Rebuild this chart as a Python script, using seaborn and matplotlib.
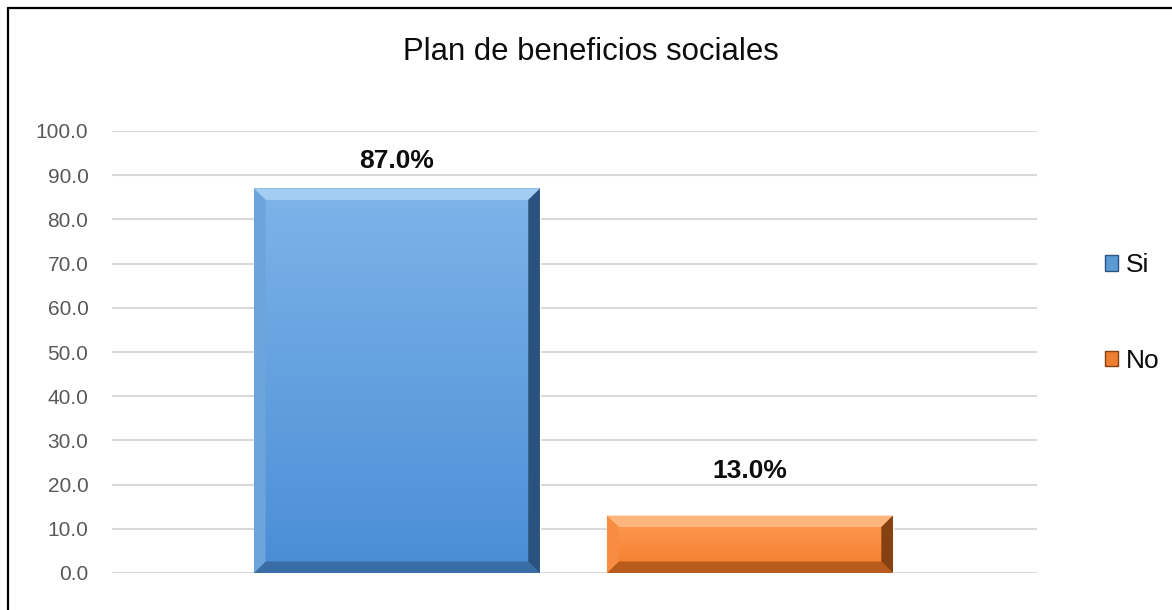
import numpy as np
import matplotlib
matplotlib.use("Agg")
import matplotlib.pyplot as plt
import seaborn as sns
from matplotlib.patches import Patch, Polygon
from matplotlib.lines import Line2D
from matplotlib.colors import LinearSegmentedColormap
from matplotlib.ticker import MultipleLocator, FuncFormatter

# ---- data ----
categories = ["Si", "No"]
values = [87.0, 13.0]
value_labels = ["87.0%", "13.0%"]
title = "Plan de beneficios sociales"

# ---- style ----
sns.set_theme(style="white")
plt.rcParams["font.family"] = ["Liberation Sans", "DejaVu Sans"]

base_colors = ["#5B9BD5", "#ED7D31"]
grad_top = ["#7EB4E9", "#FF9C55"]
grad_bot = ["#4A8DD6", "#F47C2A"]
bev_top = ["#A3CDF2", "#FFB57E"]
bev_left = ["#6CA4DD", "#F88C43"]
bev_right = ["#2A527F", "#854112"]
bev_bot = ["#3A6CA5", "#B95B1A"]
label_offsets_pt = [15, 27]

fig = plt.figure(figsize=(11.72, 6.10), dpi=100)
ax = fig.add_axes([112 / 1172, 1 - 573 / 610, (1037 - 112) / 1172, (573 - 131) / 610])

sns.barplot(x=categories, y=values, hue=categories, palette=base_colors,
            width=0.81, dodge=False, legend=False, ax=ax, saturation=1)

ax.set_ylim(0, 100)
ax.set_xlim(-0.807, 1.813)
ax.yaxis.set_major_locator(MultipleLocator(10))
ax.yaxis.set_major_formatter(FuncFormatter(lambda v, p: f"{v:.1f}"))
ax.tick_params(axis="y", length=0, pad=17, labelsize=15, labelcolor="#595959")
ax.tick_params(axis="x", length=0, labelbottom=False)
ax.set_xlabel("")
ax.set_ylabel("")
for s in ax.spines.values():
    s.set_visible(False)
ax.yaxis.grid(True, color="#D9D9D9", linewidth=1.5)
ax.set_axisbelow(True)

# bevel/gradient decoration derived from bar patches
dx, dy = 0.033, 2.6
bars = list(ax.patches)
for i, p in enumerate(bars):
    x0, y0 = p.get_x(), p.get_y()
    w, h = p.get_width(), p.get_height()
    x1, y1 = x0 + w, y0 + h
    cmap = LinearSegmentedColormap.from_list("g", [grad_bot[i], grad_top[i]])
    grad = np.linspace(0, 1, 256).reshape(-1, 1)
    im = ax.imshow(grad, cmap=cmap, origin="lower", extent=[x0, x1, y0, y1],
                   aspect="auto", zorder=p.get_zorder() + 0.1)
    im.set_clip_path(p)
    z = p.get_zorder() + 0.2
    ax.add_patch(Polygon([(x0, y1), (x1, y1), (x1 - dx, y1 - dy), (x0 + dx, y1 - dy)],
                         closed=True, fc=bev_top[i], ec="none", zorder=z))
    ax.add_patch(Polygon([(x0, y0), (x1, y0), (x1 - dx, y0 + dy), (x0 + dx, y0 + dy)],
                         closed=True, fc=bev_bot[i], ec="none", zorder=z))
    ax.add_patch(Polygon([(x0, y0), (x0, y1), (x0 + dx, y1 - dy), (x0 + dx, y0 + dy)],
                         closed=True, fc=bev_left[i], ec="none", zorder=z))
    ax.add_patch(Polygon([(x1, y0), (x1, y1), (x1 - dx, y1 - dy), (x1 - dx, y0 + dy)],
                         closed=True, fc=bev_right[i], ec="none", zorder=z))
    ax.annotate(value_labels[i], (x0 + w / 2, y1), xytext=(0, label_offsets_pt[i]),
                textcoords="offset points", ha="center", va="baseline",
                fontsize=19, fontweight="bold", color="#0D0D0D")

ax.set_xlim(-0.807, 1.813)
ax.set_ylim(0, 100)

# title
fig.text(590.5 / 1172, 1 - 60 / 610, title, ha="center", va="baseline",
         fontsize=22.4, color="#0D0D0D")

# legend
handles = [Patch(facecolor=base_colors[i], edgecolor=bev_right[i], linewidth=1.0)
           for i in range(len(categories))]
fig.legend(handles, categories, loc="center left",
           bbox_to_anchor=(1092 / 1172, 1 - 313 / 610), frameon=False,
           fontsize=19, labelspacing=2.7, handlelength=0.5, handleheight=0.5,
           handletextpad=0.3, borderpad=0, labelcolor="#0D0D0D")

# partial outer border (top and left visible)
fig.add_artist(Line2D([8 / 1172, 1.0], [1 - 8 / 610, 1 - 8 / 610],
                      transform=fig.transFigure, color="black", linewidth=1.6))
fig.add_artist(Line2D([8 / 1172, 8 / 1172], [0.0, 1 - 8 / 610],
                      transform=fig.transFigure, color="black", linewidth=1.6))

fig.savefig("out.png", dpi=100, facecolor="white")
